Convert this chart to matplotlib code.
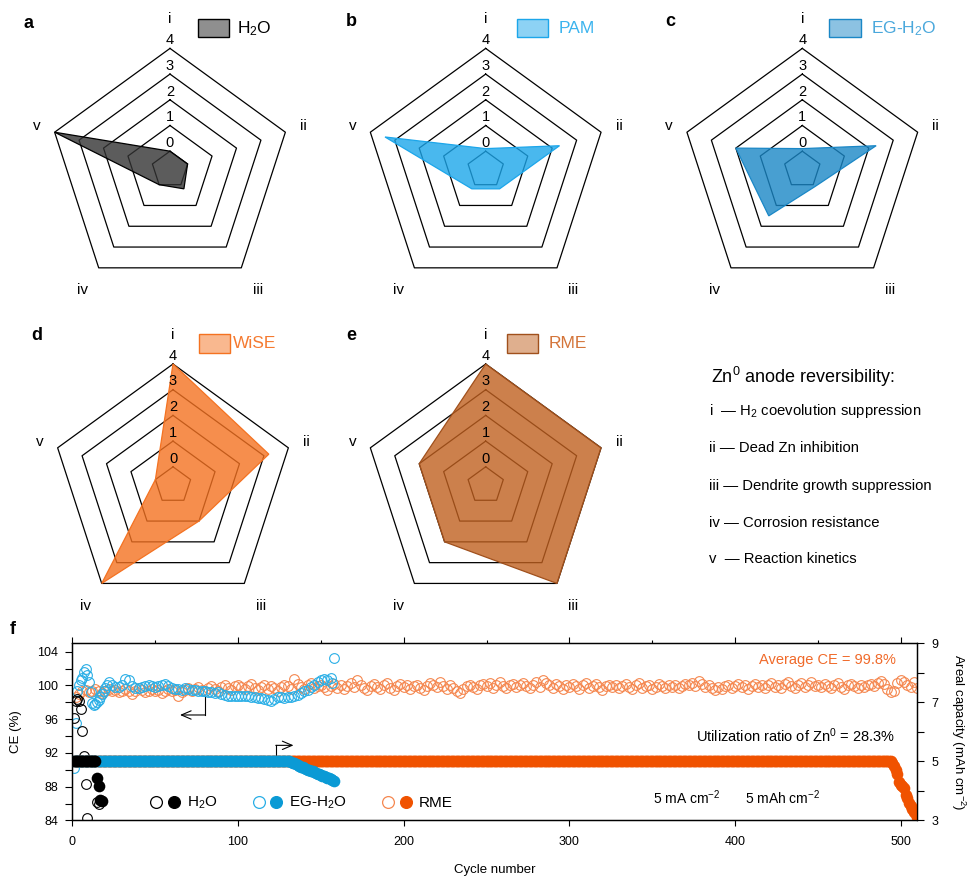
import matplotlib
matplotlib.use('Agg')
import matplotlib.pyplot as plt
import numpy as np
from matplotlib.patches import Rectangle
from matplotlib.lines import Line2D
from matplotlib.legend_handler import HandlerTuple
from matplotlib.ticker import MultipleLocator
from matplotlib.colors import to_rgba

plt.rcParams['font.family'] = ['Liberation Sans', 'DejaVu Sans']
plt.rcParams['mathtext.fontset'] = 'custom'
plt.rcParams['mathtext.rm'] = 'Liberation Sans'
plt.rcParams['mathtext.it'] = 'Liberation Sans:italic'
plt.rcParams['mathtext.bf'] = 'Liberation Sans:bold'

W, H = 975, 882
fig = plt.figure(figsize=(9.75, 8.82), dpi=100)

# ---------------- radar data (score 0-4 on axes i..v) ----------------
axis_names = ['i', 'ii', 'iii', 'iv', 'v']
levels = [0, 1, 2, 3, 4]
h2o_score = [0, 0, 0.2, 0, 4]
pam_score = [0.1, 2.3, 0.2, 0.2, 3.4]
eg_score = [0.1, 2.3, 0.1, 1.5, 2.0]
wise_score = [4, 3.2, 1.0, 4, 0]
rme_score = [4, 4, 4, 2, 2]

# ---------------- cycling data ----------------
h2o_ce_cyc = [1, 2, 3, 4, 5, 6, 7, 8, 9, 15, 16]
h2o_ce = [96.2, 98.1, 98.4, 98.1, 97.2, 94.6, 91.6, 88.3, 84.3, 86.2, 85.9]

eg_ce_cyc = list(range(1, 23)) + list(range(24, 157, 2)) + [157, 158]
eg_ce = [90.2, 95.6, 99.4, 100.1, 100.6, 100.9, 101.6, 102.0, 101.2, 100.4,
         99.2, 97.9, 97.7, 97.8, 98.0, 98.3, 98.6, 99.0, 99.3, 99.7, 100.1, 100.4,
         100.1, 99.8, 99.8, 100.0, 100.8, 100.7, 99.9, 99.7, 99.7, 99.8,
         99.9, 100.0, 99.9, 99.8, 99.9, 100.1, 100.2, 99.9, 99.7, 99.6,
         99.6, 99.5, 99.7, 99.6, 99.5, 99.5, 99.4, 99.4, 99.3, 99.2,
         99.2, 99.1, 99.2, 99.0, 98.9, 98.8, 98.8, 98.7, 98.7, 98.8,
         98.8, 98.7, 98.6, 98.6, 98.5, 98.5, 98.4, 98.3, 98.2, 98.4,
         98.6, 98.6, 98.5, 98.6, 98.6, 98.7, 98.9, 99.1, 99.3, 99.5,
         99.8, 100.1, 100.4, 100.7, 100.8, 100.6, 100.9,
         100.3, 103.3]

rme_ce_cyc = list(range(2, 511, 2))
rme_ce = [98.6, 99.0, 99.3, 99.5, 99.2, 99.4, 99.6, 99.3, 99.1, 99.4, 99.6, 99.3, 99.5, 99.2, 99.4,
          99.6, 99.3, 99.0, 99.4, 99.7, 99.5, 99.2, 99.4, 99.6, 99.3, 99.5, 99.1, 99.4, 99.6, 99.3,
          99.5, 98.7, 99.2, 99.5, 99.7, 99.4, 99.6, 99.8, 99.5, 99.3, 99.7, 99.9, 99.6, 99.4, 99.8,
          100.0, 99.7, 99.5, 99.9, 100.1, 99.8, 99.6, 99.9, 100.2, 99.7, 99.5, 99.8, 100.0, 99.6, 99.9,
          99.7, 99.4, 99.8, 100.1, 99.9, 99.6, 100.8, 100.2, 99.8, 99.6, 100.0, 100.3, 99.7, 99.9, 100.1,
          99.8, 99.5, 99.9, 100.2, 99.7, 100.0, 99.6, 99.9, 100.3, 99.8, 100.7, 100.1, 99.7, 99.5, 99.9,
          100.2, 99.8, 99.6, 100.0, 100.3, 99.7, 99.5, 99.9, 100.2, 99.8, 100.0, 99.6, 99.9, 100.1, 99.7,
          99.5, 99.9, 100.3, 100.1, 99.8, 100.4, 99.9, 99.6, 100.0, 99.7, 99.4, 99.1, 99.6, 99.9, 100.1,
          99.8, 99.6, 100.0, 100.2, 99.9, 100.3, 99.7, 100.1, 100.4, 99.9, 99.7, 100.0, 100.2, 99.8, 100.1,
          100.3, 99.9, 99.7, 100.1, 100.4, 99.8, 100.7, 100.3, 100.0, 99.7, 100.2, 99.9, 99.6, 100.0, 99.8,
          100.2, 99.9, 99.6, 100.0, 100.3, 99.7, 99.9, 100.2, 99.8, 99.5, 99.9, 100.1, 99.8, 100.0, 99.7,
          99.9, 100.2, 99.8, 99.6, 100.0, 100.3, 99.7, 99.9, 100.1, 99.6, 99.8, 100.2, 99.9, 99.7, 100.0,
          99.8, 100.1, 99.7, 99.9, 100.2, 100.0, 100.3, 99.9, 100.5, 100.2, 99.8, 100.1, 99.7, 99.5, 99.8,
          99.6, 99.9, 100.1, 99.7, 99.9, 100.2, 99.8, 100.0, 99.6, 99.9, 100.2, 99.8, 100.1, 99.7, 100.0,
          100.3, 99.8, 100.0, 99.7, 100.2, 100.4, 99.9, 99.7, 100.1, 100.3, 99.8, 100.0, 100.4, 99.9, 100.1,
          99.8, 100.2, 99.9, 99.7, 100.1, 100.3, 99.8, 99.6, 100.0, 100.2, 99.9, 99.7, 100.1, 99.8, 100.0,
          100.2, 99.9, 100.3, 100.5, 100.2, 99.6, 99.2, 99.4, 100.3, 100.6, 100.4, 100.1, 99.8, 100.4, 99.7]

h2o_cap_cyc = list(range(1, 19))
h2o_cap = [5.0] * 14 + [4.45, 4.15, 3.7, 3.65]

eg_cap_cyc = list(range(1, 159))
eg_cap = [5.0] * 130 + [5.0, 4.98, 4.96, 4.93, 4.9, 4.87, 4.85, 4.82, 4.8, 4.77,
                        4.75, 4.72, 4.7, 4.68, 4.66, 4.63, 4.61, 4.58, 4.56, 4.53,
                        4.51, 4.49, 4.47, 4.45, 4.42, 4.4, 4.37, 4.35]

rme_cap_cyc = list(range(1, 511))
rme_cap = [5.0] * 493 + [5.0, 4.95, 4.85, 4.7, 4.57, 4.3, 4.2, 4.15, 4.1, 3.85,
                         3.75, 3.6, 3.5, 3.4, 3.3, 3.2, 3.12]

# ---------------- radar panels ----------------
OFF = 0.72      # radius of level "0"
PX = 25.7       # pixels per score unit
ang = np.deg2rad(90 - 72 * np.arange(5))
lab_r = [5.85, 5.45, 5.8, 5.8, 5.45]


def radar(cx, cy, scores, face, edge, name, txtcol, patch_x, text_x, leg_alpha=0.5):
    half = 6.8
    ax = fig.add_axes([(cx - half * PX) / W, 1 - (cy + half * PX) / H,
                       2 * half * PX / W, 2 * half * PX / H])
    ax.set_xlim(-half, half)
    ax.set_ylim(-half, half)
    ax.axis('off')
    for lv in levels:
        r = lv + OFF
        xs = np.append(r * np.cos(ang), r * np.cos(ang[0]))
        ys = np.append(r * np.sin(ang), r * np.sin(ang[0]))
        ax.plot(xs, ys, color='black', lw=0.9, zorder=2)
        ax.text(0, r + 0.05, str(lv), ha='center', va='bottom', fontsize=10.5, zorder=4)
    rr = np.array(scores) + OFF
    ax.fill(rr * np.cos(ang), rr * np.sin(ang), facecolor=to_rgba(face, 0.8),
            edgecolor=edge, lw=0.9, zorder=3)
    for k in range(5):
        ax.text(lab_r[k] * np.cos(ang[k]), lab_r[k] * np.sin(ang[k]), axis_names[k],
                ha='center', va='center', fontsize=11)
    ax.add_patch(Rectangle((patch_x, 5.15), 1.22, 0.72, facecolor=to_rgba(face, leg_alpha),
                           edgecolor=edge, lw=1, clip_on=False))
    ax.text(text_x, 5.5, name, color=txtcol, fontsize=12.5, ha='left', va='center')
    return ax


radar(170, 169.7, h2o_score, '#333333', 'black', 'H$_2$O', 'black', 1.09, 2.6, 0.55)
radar(485.7, 169.7, pam_score, '#1ca6ea', '#1ca6ea', 'PAM', '#3cb4ee', 1.2, 2.82)
radar(802.3, 169.7, eg_score, '#1a87c6', '#1a87c6', 'EG-H$_2$O', '#4aa8dc', 1.05, 2.67)
radar(173, 485.3, wise_score, '#f47221', '#f47221', 'WiSE', '#f57a30', 1.01, 2.35)
radar(485.7, 485.3, rme_score, '#c0601f', '#a0501c', 'RME', '#d4753a', 0.82, 2.46)

for lt, (px, py) in zip(['a', 'b', 'c', 'd', 'e', 'f'],
                        [(28, 23), (351, 22), (670, 22), (37, 335), (351, 335), (13, 630)]):
    fig.text(px / W, 1 - py / H, lt, fontweight='bold', fontsize=13, ha='center', va='center')

# definitions
fig.text(711 / W, 1 - 377 / H, 'Zn$^0$ anode reversibility:', fontsize=13, ha='left', va='center')
defs = ['i  \u2014 H$_2$ coevolution suppression', 'ii \u2014 Dead Zn inhibition',
        'iii \u2014 Dendrite growth suppression', 'iv \u2014 Corrosion resistance',
        'v  \u2014 Reaction kinetics']
for s, yy in zip(defs, [411, 448, 485.7, 522.7, 559.3]):
    fig.text(709 / W, 1 - yy / H, s, fontsize=10.7, ha='left', va='center')

# ---------------- panel f ----------------
c_blue_o = '#29aee6'
c_blue_f = '#0a9ad5'
c_org_o = '#f5874f'
c_org_f = '#f05200'

axf = fig.add_axes([72.3 / W, 1 - 820.4 / H, 845 / W, 177.1 / H])
axf.set_xlim(0, 510)
axf.set_ylim(84, 105)
ax2 = axf.twinx()
ax2.set_ylim(3, 9)

axf.plot(rme_ce_cyc, rme_ce, 'o', ms=7, mfc='none', mec=c_org_o, mew=0.8, zorder=2)
axf.plot(eg_ce_cyc, eg_ce, 'o', ms=7, mfc='none', mec=c_blue_o, mew=0.8, zorder=3)
axf.plot(h2o_ce_cyc, h2o_ce, 'o', ms=7, mfc='none', mec='black', mew=0.8, zorder=4)

ax2.plot(rme_cap_cyc, rme_cap, 'o', ms=8.4, color=c_org_f, mew=0, zorder=2)
ax2.plot(eg_cap_cyc, eg_cap, 'o', ms=8.4, color=c_blue_f, mew=0, zorder=3)
ax2.plot(h2o_cap_cyc, h2o_cap, 'o', ms=8.4, color='black', mew=0, zorder=4)

# arrows
axf.plot([80, 80], [98.7, 96.5], color='black', lw=0.8)
axf.annotate('', xy=(65, 96.5), xytext=(80.2, 96.5),
             arrowprops=dict(arrowstyle='->,head_length=0.7,head_width=0.3', color='black', lw=0.8,
                             shrinkA=0, shrinkB=0))
axf.plot([123, 123], [91.75, 92.9], color='black', lw=0.8)
axf.annotate('', xy=(133.5, 92.9), xytext=(122.8, 92.9),
             arrowprops=dict(arrowstyle='->,head_length=0.7,head_width=0.3', color='black', lw=0.8,
                             shrinkA=0, shrinkB=0))

axf.text(497, 103.0, 'Average CE = 99.8%', color='#f06a2a', fontsize=10.5, ha='right', va='center')
axf.text(496.5, 94.05, 'Utilization ratio of Zn$^0$ = 28.3%', fontsize=10.5, ha='right', va='center')
axf.text(350.6, 86.7, '5 mA cm$^{-2}$', fontsize=10, ha='left', va='center')
axf.text(406, 86.7, '5 mAh cm$^{-2}$', fontsize=10, ha='left', va='center')

# axes styling
for a in (axf, ax2):
    for sp in a.spines.values():
        sp.set_linewidth(0.9)
axf.xaxis.set_major_locator(MultipleLocator(100))
axf.xaxis.set_minor_locator(MultipleLocator(50))
axf.tick_params(axis='x', which='major', direction='out', length=4, width=0.8, top=True,
                labelsize=9, pad=7)
axf.tick_params(axis='x', which='minor', direction='out', length=2.5, width=0.8,
                top=True, bottom=False)
axf.set_yticks([84, 88, 92, 96, 100, 104])
axf.yaxis.set_minor_locator(MultipleLocator(2))
axf.tick_params(axis='y', which='both', direction='out', length=5, width=0.8, labelsize=9, pad=5)
ax2.set_yticks([3, 5, 7, 9])
ax2.yaxis.set_minor_locator(MultipleLocator(1))
ax2.tick_params(axis='y', which='both', direction='out', length=5, width=0.8, labelsize=9, pad=5)

axf.set_xlabel('Cycle number', fontsize=9.5, labelpad=12)
axf.set_ylabel('CE (%)', fontsize=9.5, labelpad=11)
ax2.set_ylabel('Areal capacity (mAh cm$^{-2}$)', fontsize=9.5, rotation=-90, labelpad=21)

# legend
def mk(fc, ec):
    return Line2D([], [], ls='none', marker='o', ms=8.5, mfc=fc, mec=ec, mew=0.9)

handles = [(mk('none', 'black'), mk('black', 'black')),
           (mk('none', c_blue_o), mk(c_blue_f, c_blue_f)),
           (mk('none', c_org_o), mk(c_org_f, c_org_f))]
ax2.legend(handles, ['H$_2$O', 'EG-H$_2$O', 'RME'], ncol=3, frameon=False,
           handler_map={tuple: HandlerTuple(ndivide=None, pad=0.1)},
           handlelength=2.2, handletextpad=0.3, columnspacing=2.2, fontsize=11,
           loc='center left', bbox_to_anchor=(0.09, 0.097), borderpad=0, borderaxespad=0)

fig.savefig('out.png', dpi=100)
